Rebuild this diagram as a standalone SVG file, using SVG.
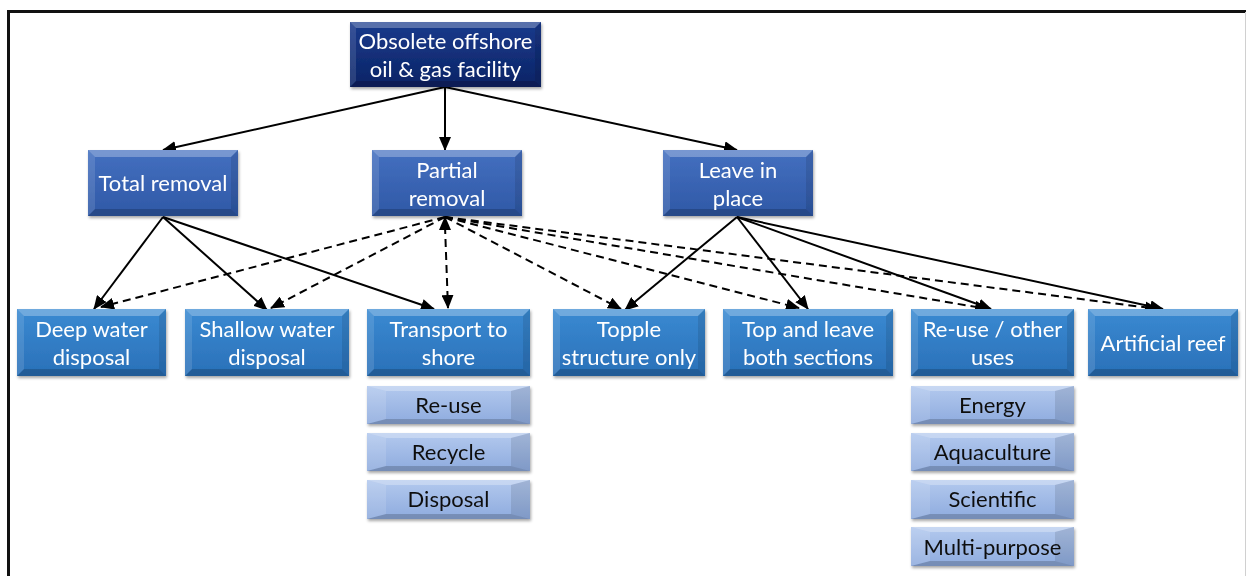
<svg xmlns="http://www.w3.org/2000/svg" width="1247" height="576" viewBox="0 0 1247 576">
  <defs>
    <linearGradient id="gNavy" x1="0" y1="0" x2="0" y2="1">
      <stop offset="0" stop-color="#1a3a8c"/>
      <stop offset="1" stop-color="#0b2466"/>
    </linearGradient>
    <linearGradient id="gMid" x1="0" y1="0" x2="0" y2="1">
      <stop offset="0" stop-color="#4470c0"/>
      <stop offset="1" stop-color="#2f58a6"/>
    </linearGradient>
    <linearGradient id="gSky" x1="0" y1="0" x2="0" y2="1">
      <stop offset="0" stop-color="#3a8ad2"/>
      <stop offset="1" stop-color="#2a70b8"/>
    </linearGradient>
    <linearGradient id="gPale" x1="0" y1="0" x2="0" y2="1">
      <stop offset="0" stop-color="#b3c9ee"/>
      <stop offset="1" stop-color="#8eabde"/>
    </linearGradient>
    <filter id="shadow" x="-5%" y="-10%" width="110%" height="130%">
      <feDropShadow dx="1" dy="2" stdDeviation="1.5" flood-color="#000" flood-opacity="0.35"/>
    </filter>
    <marker id="arrow" viewBox="0 0 14 12" refX="13" refY="6" markerWidth="14" markerHeight="12" markerUnits="userSpaceOnUse" orient="auto-start-reverse">
      <path d="M0,0 L14,6 L0,12 z" fill="#000"/>
    </marker>
  </defs>
  <style>
    .box { filter: url(#shadow); }
    .hi { fill: #ffffff; fill-opacity: 0.28; }
    .lo { fill: #000000; fill-opacity: 0.18; }
    .sideL { fill: #ffffff; fill-opacity: 0.12; }
    .sideR { fill: #000000; fill-opacity: 0.10; }
    .tw { font-family: Lato, "Liberation Sans", sans-serif; font-size: 22px; fill: #ffffff; text-anchor: middle; }
    .tb { font-family: Lato, "Liberation Sans", sans-serif; font-size: 22px; fill: #111111; text-anchor: middle; }
    .solid { stroke: #000; stroke-width: 2; fill: none; marker-end: url(#arrow); }
    .dash { stroke: #000; stroke-width: 2; fill: none; stroke-dasharray: 8 5; marker-end: url(#arrow); }
  </style>

  <rect width="1247" height="576" fill="#ffffff"/>
  <!-- frame -->
  <path d="M8.5,576 V11.5 H1246" fill="none" stroke="#111" stroke-width="3"/>
  <line x1="1245.5" y1="12" x2="1245.5" y2="576" stroke="#d0d0d0" stroke-width="1"/>

  <!-- connectors -->
  <g id="connectors">
    <line class="solid" x1="445" y1="87" x2="163" y2="150"/>
    <line class="solid" x1="445" y1="87" x2="445" y2="150"/>
    <line class="solid" x1="445" y1="87" x2="737" y2="150"/>

    <line class="solid" x1="163" y1="217" x2="94" y2="309"/>
    <line class="solid" x1="163" y1="217" x2="267" y2="310"/>
    <line class="solid" x1="163" y1="217" x2="434" y2="309"/>

    <line class="dash" x1="445" y1="217" x2="101" y2="307"/>
    <line class="dash" x1="445" y1="217" x2="271" y2="308"/>
    <line class="dash" x1="445" y1="226" x2="448" y2="308"/>
    <line class="dash" x1="445" y1="226" x2="445" y2="217"/>
    <line class="dash" x1="445" y1="217" x2="621" y2="309"/>
    <line class="dash" x1="445" y1="217" x2="799" y2="308"/>
    <line class="dash" x1="445" y1="217" x2="988" y2="309"/>
    <line class="dash" x1="445" y1="217" x2="1158" y2="309"/>

    <line class="solid" x1="737" y1="217" x2="625" y2="310"/>
    <line class="solid" x1="737" y1="217" x2="808" y2="309"/>
    <line class="solid" x1="737" y1="217" x2="991" y2="309"/>
    <line class="solid" x1="737" y1="217" x2="1163" y2="309"/>
  </g>

  <!-- root -->
  <g id="obsolete-facility" class="box" transform="translate(350,22)">
    <rect width="191" height="65" fill="url(#gNavy)"/>
    <path class="hi" d="M0,0 h191 l-6,6 h-179 z"/>
    <path class="lo" d="M0,65 h191 l-6,-6 h-179 z"/>
    <path class="sideL" d="M0,0 l6,6 v53 l-6,6 z"/>
    <path class="sideR" d="M191,0 l-6,6 v53 l6,6 z"/>
    <text class="tw" x="95.5" y="27">Obsolete offshore</text>
    <text class="tw" x="95.5" y="55">oil &amp; gas facility</text>
  </g>

  <!-- second level -->
  <g id="total-removal" class="box" transform="translate(88,150)">
    <rect width="150" height="66" fill="url(#gMid)"/>
    <path class="hi" d="M0,0 h150 l-7,7 h-136 z"/>
    <path class="lo" d="M0,66 h150 l-7,-7 h-136 z"/>
    <path class="sideL" d="M0,0 l7,7 v52 l-7,7 z"/>
    <path class="sideR" d="M150,0 l-7,7 v52 l7,7 z"/>
    <text class="tw" x="75" y="41">Total removal</text>
  </g>
  <g id="partial-removal" class="box" transform="translate(372,150)">
    <rect width="150" height="66" fill="url(#gMid)"/>
    <path class="hi" d="M0,0 h150 l-7,7 h-136 z"/>
    <path class="lo" d="M0,66 h150 l-7,-7 h-136 z"/>
    <path class="sideL" d="M0,0 l7,7 v52 l-7,7 z"/>
    <path class="sideR" d="M150,0 l-7,7 v52 l7,7 z"/>
    <text class="tw" x="75" y="28">Partial</text>
    <text class="tw" x="75" y="56">removal</text>
  </g>
  <g id="leave-in-place" class="box" transform="translate(663,150)">
    <rect width="150" height="66" fill="url(#gMid)"/>
    <path class="hi" d="M0,0 h150 l-7,7 h-136 z"/>
    <path class="lo" d="M0,66 h150 l-7,-7 h-136 z"/>
    <path class="sideL" d="M0,0 l7,7 v52 l-7,7 z"/>
    <path class="sideR" d="M150,0 l-7,7 v52 l7,7 z"/>
    <text class="tw" x="75" y="28">Leave in</text>
    <text class="tw" x="75" y="56">place</text>
  </g>

  <!-- third level -->
  <g id="deep-water-disposal" class="box" transform="translate(17,309)">
    <rect width="149" height="67" fill="url(#gSky)"/>
    <path class="hi" d="M0,0 h149 l-7,7 h-135 z"/>
    <path class="lo" d="M0,67 h149 l-7,-7 h-135 z"/>
    <path class="sideL" d="M0,0 l7,7 v53 l-7,7 z"/>
    <path class="sideR" d="M149,0 l-7,7 v53 l7,7 z"/>
    <text class="tw" x="74.5" y="28">Deep water</text>
    <text class="tw" x="74.5" y="56">disposal</text>
  </g>
  <g id="shallow-water-disposal" class="box" transform="translate(185,309)">
    <rect width="164" height="67" fill="url(#gSky)"/>
    <path class="hi" d="M0,0 h164 l-7,7 h-150 z"/>
    <path class="lo" d="M0,67 h164 l-7,-7 h-150 z"/>
    <path class="sideL" d="M0,0 l7,7 v53 l-7,7 z"/>
    <path class="sideR" d="M164,0 l-7,7 v53 l7,7 z"/>
    <text class="tw" x="82" y="28">Shallow water</text>
    <text class="tw" x="82" y="56">disposal</text>
  </g>
  <g id="transport-to-shore" class="box" transform="translate(367,309)">
    <rect width="163" height="67" fill="url(#gSky)"/>
    <path class="hi" d="M0,0 h163 l-7,7 h-149 z"/>
    <path class="lo" d="M0,67 h163 l-7,-7 h-149 z"/>
    <path class="sideL" d="M0,0 l7,7 v53 l-7,7 z"/>
    <path class="sideR" d="M163,0 l-7,7 v53 l7,7 z"/>
    <text class="tw" x="81.5" y="28">Transport to</text>
    <text class="tw" x="81.5" y="56">shore</text>
  </g>
  <g id="topple-structure" class="box" transform="translate(553,309)">
    <rect width="152" height="67" fill="url(#gSky)"/>
    <path class="hi" d="M0,0 h152 l-7,7 h-138 z"/>
    <path class="lo" d="M0,67 h152 l-7,-7 h-138 z"/>
    <path class="sideL" d="M0,0 l7,7 v53 l-7,7 z"/>
    <path class="sideR" d="M152,0 l-7,7 v53 l7,7 z"/>
    <text class="tw" x="76" y="28">Topple</text>
    <text class="tw" x="76" y="56">structure only</text>
  </g>
  <g id="top-and-leave" class="box" transform="translate(723,309)">
    <rect width="170" height="67" fill="url(#gSky)"/>
    <path class="hi" d="M0,0 h170 l-7,7 h-156 z"/>
    <path class="lo" d="M0,67 h170 l-7,-7 h-156 z"/>
    <path class="sideL" d="M0,0 l7,7 v53 l-7,7 z"/>
    <path class="sideR" d="M170,0 l-7,7 v53 l7,7 z"/>
    <text class="tw" x="85" y="28">Top and leave</text>
    <text class="tw" x="85" y="56">both sections</text>
  </g>
  <g id="re-use-other-uses" class="box" transform="translate(911,309)">
    <rect width="163" height="67" fill="url(#gSky)"/>
    <path class="hi" d="M0,0 h163 l-7,7 h-149 z"/>
    <path class="lo" d="M0,67 h163 l-7,-7 h-149 z"/>
    <path class="sideL" d="M0,0 l7,7 v53 l-7,7 z"/>
    <path class="sideR" d="M163,0 l-7,7 v53 l7,7 z"/>
    <text class="tw" x="81.5" y="28">Re-use / other</text>
    <text class="tw" x="81.5" y="56">uses</text>
  </g>
  <g id="artificial-reef" class="box" transform="translate(1088,309)">
    <rect width="150" height="67" fill="url(#gSky)"/>
    <path class="hi" d="M0,0 h150 l-7,7 h-136 z"/>
    <path class="lo" d="M0,67 h150 l-7,-7 h-136 z"/>
    <path class="sideL" d="M0,0 l7,7 v53 l-7,7 z"/>
    <path class="sideR" d="M150,0 l-7,7 v53 l7,7 z"/>
    <text class="tw" x="75" y="42">Artificial reef</text>
  </g>

  <!-- transport options -->
  <g id="re-use" class="box" transform="translate(367,386)">
    <rect width="163" height="38" fill="url(#gPale)"/>
    <path class="hi" d="M0,0 h163 l-19,5 h-125 z"/>
    <path class="lo" d="M0,38 h163 l-19,-5 h-125 z"/>
    <path class="sideL" d="M0,0 l19,5 v28 l-19,5 z"/>
    <path class="sideR" d="M163,0 l-19,5 v28 l19,5 z"/>
    <text class="tb" x="81.5" y="27">Re-use</text>
  </g>
  <g id="recycle" class="box" transform="translate(367,433)">
    <rect width="163" height="38" fill="url(#gPale)"/>
    <path class="hi" d="M0,0 h163 l-19,5 h-125 z"/>
    <path class="lo" d="M0,38 h163 l-19,-5 h-125 z"/>
    <path class="sideL" d="M0,0 l19,5 v28 l-19,5 z"/>
    <path class="sideR" d="M163,0 l-19,5 v28 l19,5 z"/>
    <text class="tb" x="81.5" y="27">Recycle</text>
  </g>
  <g id="disposal" class="box" transform="translate(367,480)">
    <rect width="163" height="39" fill="url(#gPale)"/>
    <path class="hi" d="M0,0 h163 l-19,5 h-125 z"/>
    <path class="lo" d="M0,39 h163 l-19,-5 h-125 z"/>
    <path class="sideL" d="M0,0 l19,5 v29 l-19,5 z"/>
    <path class="sideR" d="M163,0 l-19,5 v29 l19,5 z"/>
    <text class="tb" x="81.5" y="27">Disposal</text>
  </g>

  <!-- other uses -->
  <g id="energy" class="box" transform="translate(911,386)">
    <rect width="163" height="38" fill="url(#gPale)"/>
    <path class="hi" d="M0,0 h163 l-19,5 h-125 z"/>
    <path class="lo" d="M0,38 h163 l-19,-5 h-125 z"/>
    <path class="sideL" d="M0,0 l19,5 v28 l-19,5 z"/>
    <path class="sideR" d="M163,0 l-19,5 v28 l19,5 z"/>
    <text class="tb" x="81.5" y="27">Energy</text>
  </g>
  <g id="aquaculture" class="box" transform="translate(911,433)">
    <rect width="163" height="38" fill="url(#gPale)"/>
    <path class="hi" d="M0,0 h163 l-19,5 h-125 z"/>
    <path class="lo" d="M0,38 h163 l-19,-5 h-125 z"/>
    <path class="sideL" d="M0,0 l19,5 v28 l-19,5 z"/>
    <path class="sideR" d="M163,0 l-19,5 v28 l19,5 z"/>
    <text class="tb" x="81.5" y="27">Aquaculture</text>
  </g>
  <g id="scientific" class="box" transform="translate(911,480)">
    <rect width="163" height="39" fill="url(#gPale)"/>
    <path class="hi" d="M0,0 h163 l-19,5 h-125 z"/>
    <path class="lo" d="M0,39 h163 l-19,-5 h-125 z"/>
    <path class="sideL" d="M0,0 l19,5 v29 l-19,5 z"/>
    <path class="sideR" d="M163,0 l-19,5 v29 l19,5 z"/>
    <text class="tb" x="81.5" y="27">Scientific</text>
  </g>
  <g id="multi-purpose" class="box" transform="translate(911,527)">
    <rect width="163" height="39" fill="url(#gPale)"/>
    <path class="hi" d="M0,0 h163 l-19,5 h-125 z"/>
    <path class="lo" d="M0,39 h163 l-19,-5 h-125 z"/>
    <path class="sideL" d="M0,0 l19,5 v29 l-19,5 z"/>
    <path class="sideR" d="M163,0 l-19,5 v29 l19,5 z"/>
    <text class="tb" x="81.5" y="28">Multi-purpose</text>
  </g>
</svg>
